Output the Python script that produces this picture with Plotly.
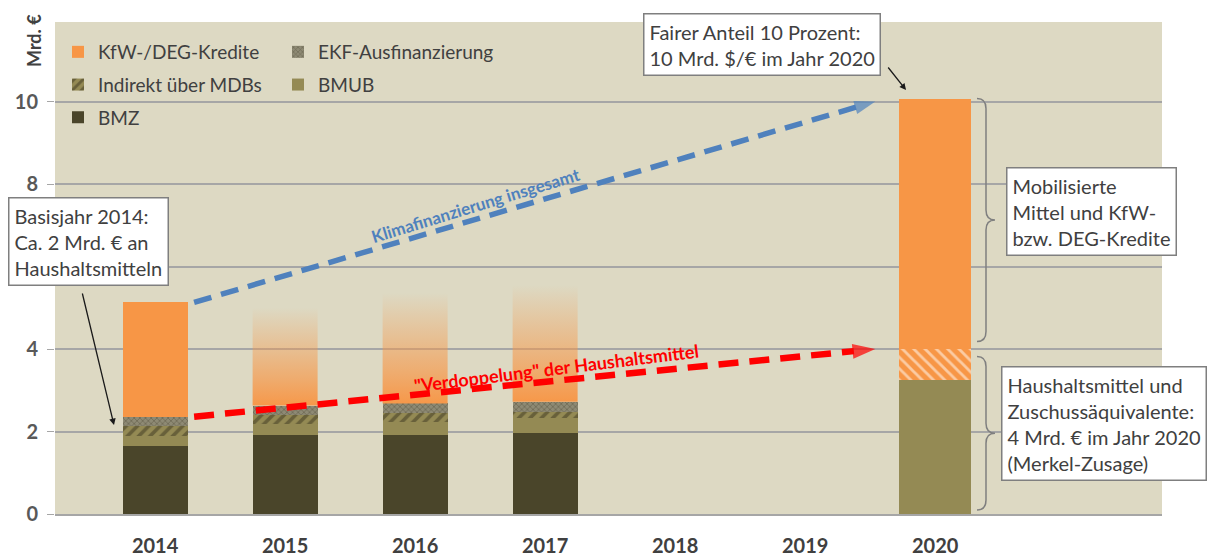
import plotly.graph_objects as go

# ---------------- data ----------------
years = ["2014", "2015", "2016", "2017", "2018", "2019", "2020"]
bar_years = ["2014", "2015", "2016", "2017", "2020"]
bmz      = [1.65, 1.91, 1.91, 1.97, 0.00]
bmub     = [0.25, 0.27, 0.31, 0.35, 3.24]
indirekt = [0.24, 0.22, 0.22, 0.16, 0.00]
ekf      = [0.22, 0.23, 0.24, 0.24, 0.00]
zuschuss = [0.00, 0.00, 0.00, 0.00, 0.77]
kfw      = [2.77, 2.37, 2.68, 2.83, 6.06]
kfw_projected = [False, True, True, True, False]
goal_total_2020 = 10.0
goal_budget_2020 = 4.0
y_ticks = [0, 2, 4, 6, 8, 10]
y_ticklabels = ["0", "2", "4", "", "8", "10"]   # "6" is hidden behind the note box

# ---------------- geometry / style ----------------
OFF = 8                      # default page margin of the html body
W, H = 1216, 558             # window size (reference pixels)
FW, FH = W - OFF, H - OFF    # figure size
L, R, T, B = 55, 1162, 22, 514   # plot area in reference pixels
PX_PER_UNIT = 41.25
YMAX = (B - T) / PX_PER_UNIT
XMIN, XMAX = -0.77, 7.745
FONT = "Lato"
TXT = "#404040"
bar_w = [0.5, 0.5, 0.5, 0.5, 0.55]

def px(xp):
    return (xp - L) / (R - L)

def py(yp):
    return (B - yp) / (B - T)

def cx(xp):
    return (xp - OFF) / FW

def cy(yp):
    return 1 - (yp - OFF) / FH

xi = [years.index(y) for y in bar_years]

C_BMZ = "#4A452A"
C_BMUB = "#948A54"
C_KFW = "#F79646"
C_BG = "#DDD9C3"
C_GRID = "#A6A6A6"

fig = go.Figure()

def bar(name, vals, color, legend, rank, pattern=None, showlegend=True):
    fig.add_trace(go.Bar(
        x=xi, y=[v if v else None for v in vals], width=bar_w, name=name,
        marker=dict(color=color, line=dict(width=0), pattern=pattern),
        legend=legend, legendgroup=name, legendrank=rank,
        showlegend=showlegend,
    ))

bar("BMZ", bmz, C_BMZ, "legend", 3)
bar("BMUB", bmub, C_BMUB, "legend2", 2)
bar("Indirekt über MDBs", indirekt, C_BMUB, "legend", 2,
    pattern=dict(shape="/", fgcolor="#3B3620", bgcolor=C_BMUB, size=8,
                 solidity=0.45, fillmode="overlay"))
bar("EKF-Ausfinanzierung", ekf, "#8E8A74", "legend2", 1,
    pattern=dict(shape="x", fgcolor="#4A4632", bgcolor="#8E8A74", size=4,
                 solidity=0.35, fillmode="overlay"))
bar("Zuschussäquivalente", zuschuss, C_KFW, "legend", 9,
    pattern=dict(shape="\\", fgcolor="#FFFFFF", bgcolor=C_KFW, size=8,
                 solidity=0.35, fillmode="overlay"), showlegend=False)
bar("KfW-/DEG-Kredite", [None if p else v for v, p in zip(kfw, kfw_projected)],
    C_KFW, "legend", 1)

# projected (faded) KfW segments as vertical gradients
for i, (x, v, p) in enumerate(zip(xi, kfw, kfw_projected)):
    if not p:
        continue
    base = bmz[i] + bmub[i] + indirekt[i] + ekf[i]
    hw = bar_w[i] / 2
    fig.add_trace(go.Scatter(
        x=[x - hw, x + hw, x + hw, x - hw, x - hw],
        y=[base, base, base + v, base + v, base],
        mode="lines", line=dict(width=0), fill="toself",
        fillgradient=dict(type="vertical",
                          colorscale=[[0, "rgba(247,150,70,0.97)"],
                                      [0.25, "rgba(247,150,70,0.7)"],
                                      [1, "rgba(247,150,70,0.0)"]]),
        showlegend=False, hoverinfo="skip",
    ))

# dashed trend arrows
total_2014 = bmz[0] + bmub[0] + indirekt[0] + ekf[0] + zuschuss[0] + kfw[0]
budget_2014 = bmz[0] + bmub[0] + indirekt[0] + ekf[0]
x_start = xi[0] + 0.3
x_end = years.index("2020") - 0.46
for y0, y1, col, dash, lw, hs in [
    (total_2014, goal_total_2020, "#4F81BD", "18px,10px", 5.5, 22),
    (budget_2014, goal_budget_2020, "#FF0000", "20px,11px", 6.5, 24),
]:
    fig.add_trace(go.Scatter(
        x=[x_start, x_end], y=[y0, y1], mode="lines+markers",
        line=dict(color=col, width=lw, dash=dash),
        marker=dict(symbol=["circle", "arrow"], size=[0, hs], color=col,
                    angleref="previous", line=dict(width=0)),
        showlegend=False, hoverinfo="skip",
    ))

# ---------------- annotations ----------------
box = dict(showarrow=False, xref="paper", yref="paper", xanchor="left",
           yanchor="top", align="left", bgcolor="white",
           bordercolor="#7F7F7F", borderwidth=1.5, borderpad=5,
           font=dict(family=FONT, size=20, color=TXT))
ann = [
    dict(text="Basisjahr 2014:<br>Ca. 2 Mrd. € an<br>Haushaltsmitteln",
         x=px(8), y=py(197), **box),
    dict(text="Fairer Anteil 10 Prozent:<br>10 Mrd. $/€ im Jahr 2020",
         x=px(643), y=py(13), **box),
    dict(text="Mobilisierte<br>Mittel und KfW-<br>bzw. DEG-Kredite",
         x=px(1006), y=py(167), **box),
    dict(text="Haushaltsmittel und<br>Zuschussäquivalente:<br>4 Mrd. € im Jahr 2020<br>(Merkel-Zusage)",
         x=px(1001), y=py(366), **box),
]
arrow = dict(text="", showarrow=True, xref="paper", yref="paper",
             arrowhead=2, arrowsize=1, arrowwidth=1.3, arrowcolor="#1A1A1A")
ann += [
    dict(x=px(114), y=py(425), ax=82 - 114, ay=292 - 425, **arrow),
    dict(x=px(906), y=py(90), ax=887 - 906, ay=66 - 90, **arrow),
]
rot = dict(xref="paper", yref="paper", showarrow=False,
           xanchor="center", yanchor="middle")
ann += [
    dict(text="Klimafinanzierung insgesamt", x=px(475), y=py(205),
         textangle=-17,
         font=dict(family=FONT, size=17, color="#4F81BD", weight="bold"), **rot),
    dict(text="\"Verdoppelung\" der Haushaltsmittel", x=px(556), y=py(368),
         textangle=-7,
         font=dict(family=FONT, size=18, color="#FF0000", weight="bold"), **rot),
    dict(text="Mrd. €", x=px(34), y=py(41), textangle=-90,
         font=dict(family=FONT, size=18, color=TXT, weight="bold"), **rot),
]

# curly braces next to the 2020 bar
def brace(yt, yb, x0=977, xs=986, xt=995, r=10):
    ym = (yt + yb) / 2
    pts = [
        ("M", [(x0, yt)]),
        ("Q", [(xs, yt), (xs, yt + r)]),
        ("L", [(xs, ym - r)]),
        ("Q", [(xs, ym), (xt, ym)]),
        ("Q", [(xs, ym), (xs, ym + r)]),
        ("L", [(xs, yb - r)]),
        ("Q", [(xs, yb), (x0, yb)]),
    ]
    s = ""
    for cmd, ps in pts:
        s += cmd + " ".join(f"{px(a):.5f},{py(b):.5f}" for a, b in ps) + " "
    return dict(type="path", path=s.strip(), xref="paper", yref="paper",
                line=dict(color="#7F7F7F", width=1.5))

def ypix(v):
    return B - v * PX_PER_UNIT

total_2020 = bmub[4] + zuschuss[4] + kfw[4]
budget_2020 = bmub[4] + zuschuss[4]
shapes = [brace(ypix(total_2020), ypix(budget_2020) - 7),
          brace(ypix(budget_2020) + 8, ypix(0) - 4)]

leg = dict(xref="container", yref="container", xanchor="left",
           yanchor="top", bgcolor="rgba(0,0,0,0)", traceorder="grouped",
           tracegroupgap=5, font=dict(family=FONT, size=19, color=TXT))

fig.update_layout(
    width=FW, height=FH,
    margin=dict(l=L - OFF, r=W - R, t=T - OFF, b=H - B, autoexpand=False),
    barmode="stack", bargap=0,
    paper_bgcolor="white", plot_bgcolor=C_BG,
    font=dict(family=FONT, color=TXT),
    annotations=ann, shapes=shapes,
    legend=dict(x=cx(58), y=cy(33), **leg),
    legend2=dict(x=cx(278), y=cy(33), **leg),
    xaxis=dict(range=[XMIN, XMAX], tickvals=list(range(len(years))),
               ticktext=years, showgrid=False, zeroline=False,
               showline=True, linecolor=C_GRID, linewidth=2,
               ticks="", ticklabelstandoff=13, automargin=False,
               tickfont=dict(family=FONT, size=20, color=TXT, weight="bold")),
    yaxis=dict(range=[0, YMAX], tickvals=y_ticks, ticktext=y_ticklabels,
               showgrid=True, gridcolor=C_GRID, gridwidth=1.5,
               zeroline=False, ticks="outside", ticklen=7, tickcolor=C_GRID,
               ticklabelstandoff=5, automargin=False,
               tickfont=dict(family=FONT, size=20, color="#595959", weight="bold")),
    showlegend=True,
)

fig.write_html("out.html")
